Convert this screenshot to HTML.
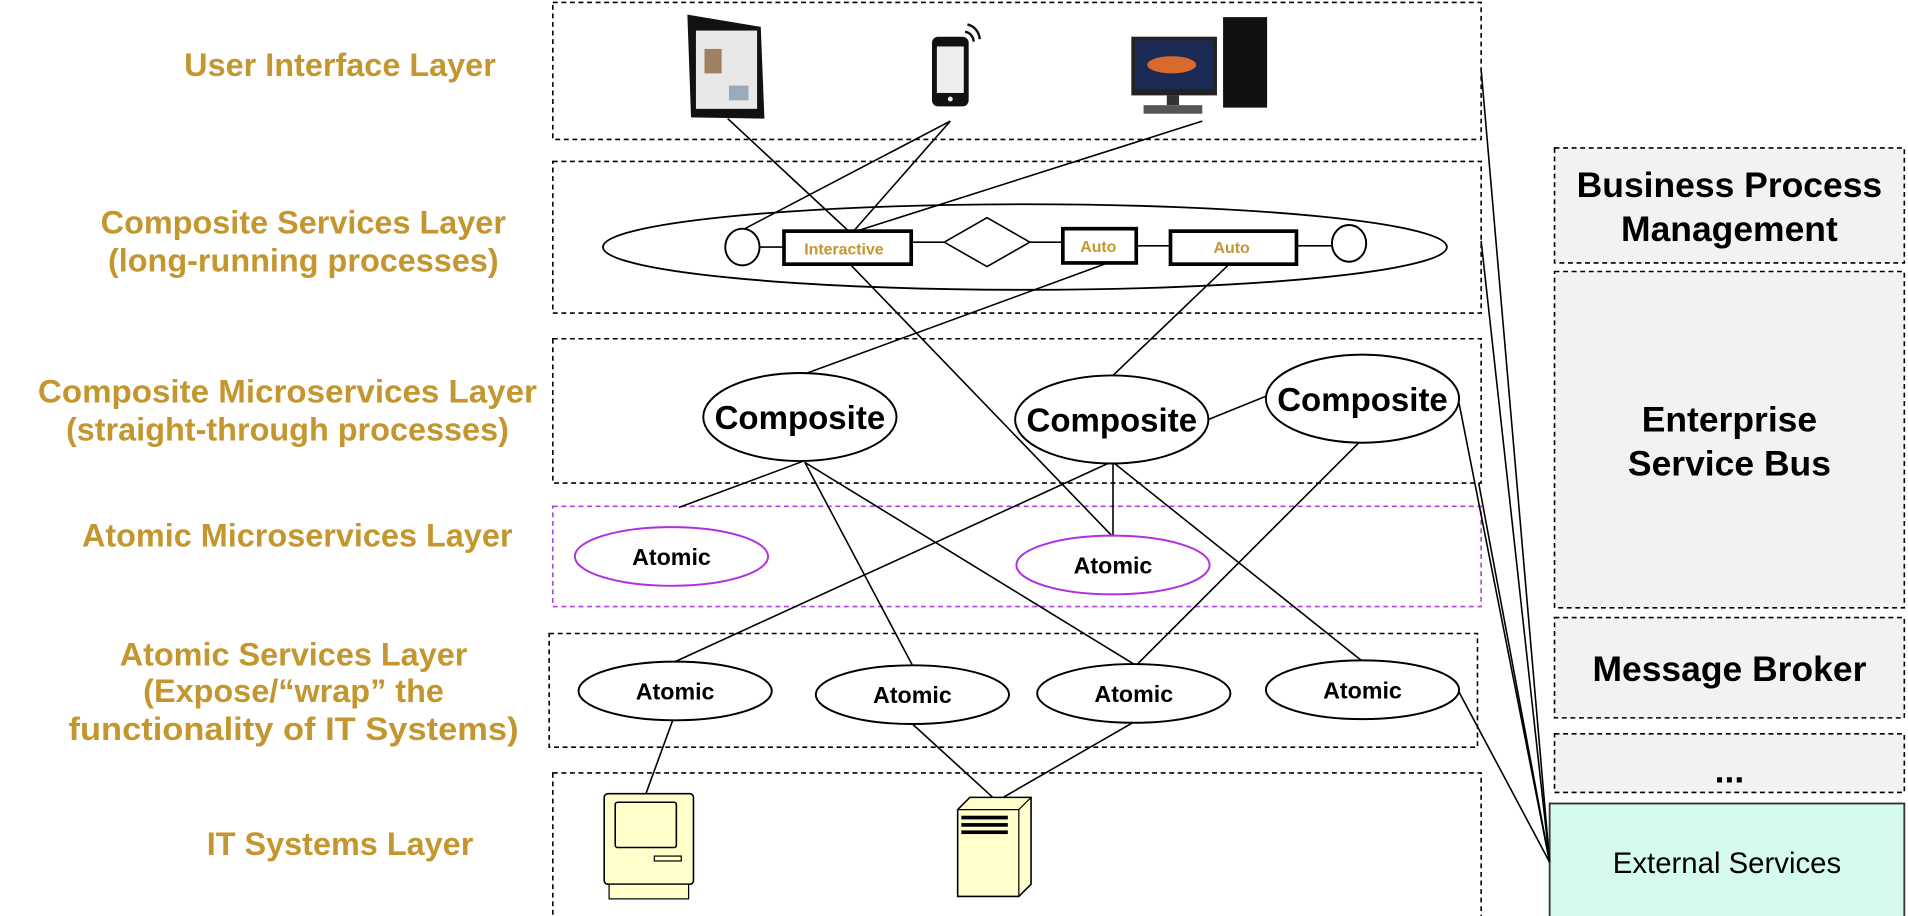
<!DOCTYPE html>
<html><head><meta charset="utf-8"><style>
html,body{margin:0;padding:0;background:#fff;width:1908px;height:916px;overflow:hidden}
svg{display:block}
.lbl{font-family:"Liberation Sans",sans-serif;font-weight:bold;fill:#c4962f;font-size:26.5px;text-anchor:middle}
.bk{font-family:"Liberation Sans",sans-serif;font-weight:bold;fill:#000;text-anchor:middle}
.box{fill:none;stroke:#000;stroke-width:1.3;stroke-dasharray:4 3}
.ln{stroke:#000;stroke-width:1.3;fill:none}
.el{fill:#fff;stroke:#000;stroke-width:1.6}
</style></head><body>
<svg width="1908" height="916" viewBox="0 0 1560 749" preserveAspectRatio="none">
<rect class="box" x="452" y="2" width="759" height="112"/>
<rect class="box" x="452" y="132" width="759" height="124"/>
<rect class="box" x="452" y="277" width="759" height="118"/>
<rect class="box" x="452" y="414" width="759" height="82" style="stroke:#b040e0"/>
<rect class="box" x="449" y="518" width="759" height="93"/>
<rect class="box" x="452" y="632" width="759" height="118"/>

<g>
<text class="lbl" x="278" y="62">User Interface Layer</text>
<text class="lbl" x="248" y="191">Composite Services Layer</text>
<text class="lbl" x="248" y="222">(long-running processes)</text>
<text class="lbl" x="235" y="329" textLength="408" lengthAdjust="spacingAndGlyphs">Composite Microservices Layer</text>
<text class="lbl" x="235" y="360">(straight-through processes)</text>
<text class="lbl" x="243" y="447">Atomic Microservices Layer</text>
<text class="lbl" x="240" y="544">Atomic Services Layer</text>
<text class="lbl" x="240" y="574">(Expose/“wrap” the</text>
<text class="lbl" x="240" y="605" textLength="368" lengthAdjust="spacingAndGlyphs">functionality of IT Systems)</text>
<text class="lbl" x="278" y="699">IT Systems Layer</text>
</g>

<rect x="1271" y="121" width="286" height="94" class="box" style="fill:#f2f2f2"/>
<text class="bk" x="1414" y="161" font-size="29">Business Process</text>
<text class="bk" x="1414" y="197" font-size="29">Management</text>
<rect x="1271" y="222" width="286" height="275" class="box" style="fill:#f2f2f2"/>
<text class="bk" x="1414" y="353" font-size="29">Enterprise</text>
<text class="bk" x="1414" y="389" font-size="29">Service Bus</text>
<rect x="1271" y="505" width="286" height="82" class="box" style="fill:#f2f2f2"/>
<text class="bk" x="1414" y="557" font-size="29">Message Broker</text>
<rect x="1271" y="600" width="286" height="48" class="box" style="fill:#f2f2f2"/>
<text class="bk" x="1414" y="640" font-size="29">...</text>
<rect x="1267" y="657" width="290" height="93" fill="#d5fbee" stroke="#333" stroke-width="1.5"/>
<text x="1412" y="714" font-size="24" font-family="Liberation Sans,sans-serif" text-anchor="middle">External Services</text>

<g class="ln">
<line x1="595" y1="97" x2="695" y2="190"/>
<line x1="777" y1="99" x2="607" y2="188"/>
<line x1="777" y1="99" x2="697" y2="190"/>
<line x1="983" y1="99" x2="697" y2="190"/>
<line x1="695" y1="216" x2="909" y2="438"/>
<line x1="903" y1="216" x2="660" y2="305"/>
<line x1="1005" y1="216" x2="910" y2="307"/>
<line x1="988" y1="343" x2="1035" y2="324"/>
<line x1="657" y1="377" x2="555" y2="415"/>
<line x1="658" y1="378" x2="746" y2="544"/>
<line x1="658" y1="378" x2="927" y2="543"/>
<line x1="910" y1="378" x2="910" y2="438"/>
<line x1="908" y1="378" x2="552" y2="541"/>
<line x1="910" y1="378" x2="1113" y2="540"/>
<line x1="1113" y1="360" x2="930" y2="543"/>
<line x1="550" y1="589" x2="527" y2="652"/>
<line x1="746" y1="592" x2="815" y2="655"/>
<line x1="926" y1="591" x2="815" y2="655"/>
<line x1="1211" y1="57" x2="1267" y2="705"/>
<line x1="1211" y1="197" x2="1267" y2="705"/>
<line x1="1209" y1="395" x2="1267" y2="705"/>
<line x1="1193" y1="330" x2="1267" y2="705"/>
<line x1="1193" y1="566" x2="1267" y2="705"/>
</g>

<ellipse cx="838" cy="202" rx="345" ry="35" fill="none" stroke="#000" stroke-width="1.5"/>
<g class="ln"><line x1="621" y1="202" x2="641" y2="202"/><line x1="745" y1="198" x2="772" y2="198"/><line x1="842" y1="198" x2="869" y2="198"/><line x1="929" y1="201" x2="957" y2="201"/><line x1="1060" y1="201" x2="1089" y2="201"/></g>
<ellipse class="el" cx="607" cy="202" rx="14" ry="15"/>
<ellipse class="el" cx="1103" cy="199" rx="14" ry="15"/>
<rect x="641" y="189" width="104" height="27" fill="#fff" stroke="#000" stroke-width="3"/>
<text x="690" y="208" font-size="13" font-family="Liberation Sans,sans-serif" font-weight="bold" fill="#c4962f" text-anchor="middle">Interactive</text>
<polygon points="772,198 807,178 842,198 807,218" fill="#fff" stroke="#000" stroke-width="1.3"/>
<rect x="869" y="187" width="60" height="28" fill="#fff" stroke="#000" stroke-width="3"/>
<text x="898" y="206" font-size="13" font-family="Liberation Sans,sans-serif" font-weight="bold" fill="#c4962f" text-anchor="middle">Auto</text>
<rect x="957" y="189" width="103" height="27" fill="#fff" stroke="#000" stroke-width="3"/>
<text x="1007" y="207" font-size="13" font-family="Liberation Sans,sans-serif" font-weight="bold" fill="#c4962f" text-anchor="middle">Auto</text>

<g><ellipse class="el" cx="654" cy="341" rx="79" ry="36"/><text class="bk" x="654" y="351" font-size="27">Composite</text></g>
<g><ellipse class="el" cx="909" cy="343" rx="79" ry="36"/><text class="bk" x="909" y="353" font-size="27">Composite</text></g>
<g><ellipse class="el" cx="1114" cy="326" rx="79" ry="36"/><text class="bk" x="1114" y="336" font-size="27">Composite</text></g>

<g><ellipse class="el" style="stroke:#b030e0" cx="549" cy="455" rx="79" ry="24"/><text class="bk" x="549" y="462" font-size="19">Atomic</text></g>
<g><ellipse class="el" style="stroke:#b030e0" cx="910" cy="462" rx="79" ry="24"/><text class="bk" x="910" y="469" font-size="19">Atomic</text></g>

<g><ellipse class="el" cx="552" cy="565" rx="79" ry="24"/><text class="bk" x="552" y="572" font-size="19">Atomic</text></g>
<g><ellipse class="el" cx="746" cy="568" rx="79" ry="24"/><text class="bk" x="746" y="575" font-size="19">Atomic</text></g>
<g><ellipse class="el" cx="927" cy="567" rx="79" ry="24"/><text class="bk" x="927" y="574" font-size="19">Atomic</text></g>
<g><ellipse class="el" cx="1114" cy="564" rx="79" ry="24"/><text class="bk" x="1114" y="571" font-size="19">Atomic</text></g>

<g>
<polygon points="562,12 622,22 625,97 565,96" fill="#111"/>
<rect x="569" y="25" width="50" height="64" fill="#e8e8e8"/>
<rect x="576" y="40" width="14" height="20" fill="#a08060"/><rect x="596" y="70" width="16" height="12" fill="#9ab"/>
</g>
<g>
<rect x="762" y="30" width="30" height="57" rx="5" fill="#111"/>
<rect x="766" y="38" width="22" height="38" fill="#eee"/>
<circle cx="777" cy="81" r="2" fill="#eee"/>
<path d="M789 26 a8 8 0 0 1 7 8 M791 20 a13 13 0 0 1 10 12" stroke="#111" stroke-width="2" fill="none"/>
</g>
<g>
<rect x="925" y="30" width="70" height="48" fill="#222"/>
<rect x="928" y="33" width="64" height="40" fill="#1a2a55"/>
<ellipse cx="958" cy="53" rx="20" ry="7" fill="#d86a30"/>
<rect x="954" y="78" width="10" height="8" fill="#333"/>
<rect x="935" y="86" width="48" height="7" fill="#555"/>
<rect x="1000" y="14" width="36" height="74" fill="#111"/>
</g>
<g>
<rect x="494" y="649" width="73" height="74" rx="3" fill="#ffffcc" stroke="#000" stroke-width="1.3"/>
<rect x="503" y="656" width="50" height="37" rx="2" fill="#ffffcc" stroke="#000" stroke-width="1.3"/>
<rect x="535" y="700" width="22" height="4" fill="#ffffcc" stroke="#000"/>
<rect x="498" y="723" width="65" height="12" fill="#ffffcc" stroke="#000"/>
</g>
<g>
<polygon points="783,662 793,652 843,652 843,723 833,733 783,733" fill="#ffffcc" stroke="#000" stroke-width="1.3"/>
<line x1="833" y1="662" x2="833" y2="733" stroke="#000"/><line x1="833" y1="662" x2="843" y2="652" stroke="#000"/><line x1="783" y1="662" x2="833" y2="662" stroke="#000"/>
<rect x="786" y="667" width="38" height="3" fill="#000"/><rect x="786" y="673" width="38" height="3" fill="#000"/><rect x="786" y="679" width="38" height="3" fill="#000"/>
</g>
</svg>
</body></html>
